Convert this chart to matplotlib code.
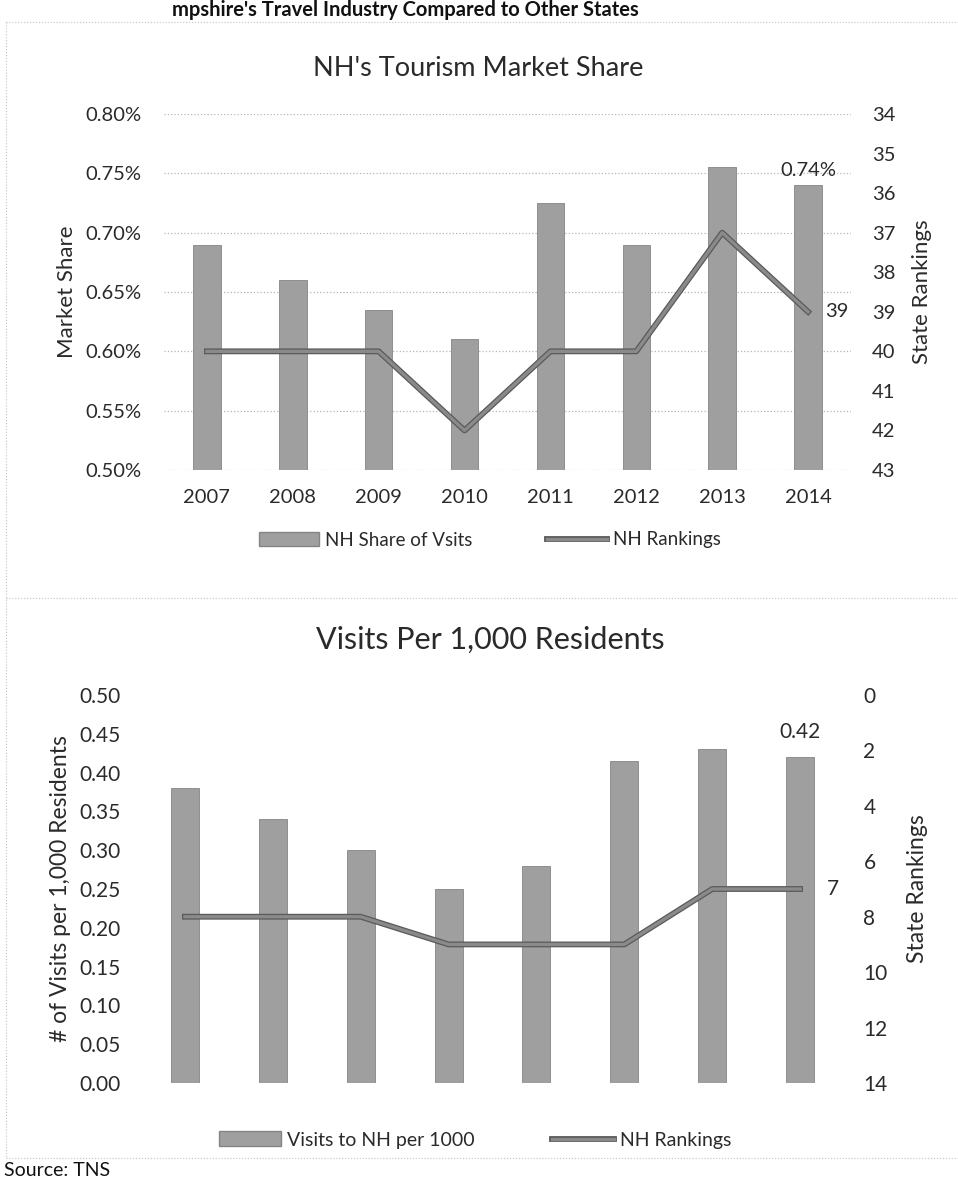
import numpy as np
import matplotlib.pyplot as plt
import matplotlib.patheffects as pe
from matplotlib.patches import Patch
from matplotlib.lines import Line2D

plt.rcParams['font.family'] = ['Lato', 'DejaVu Sans']

# data
years = ['2007', '2008', '2009', '2010', '2011', '2012', '2013', '2014']
share = [0.69, 0.66, 0.635, 0.61, 0.725, 0.69, 0.755, 0.74]      # NH share of visits (%)
share_rank = [40, 40, 40, 42, 40, 40, 37, 39]                      # NH ranking (market share)
visits = [0.38, 0.34, 0.30, 0.25, 0.28, 0.415, 0.43, 0.42]        # visits per 1000 residents
visits_rank = [8, 8, 8, 9, 9, 9, 7, 7]                             # NH ranking (visits)

W, H = 958, 1180
bar_c = '#9f9f9f'
bar_e = '#858585'
line_c = '#8a8a8a'
txt_c = '#2a2a2a'
line_fx = [pe.Stroke(linewidth=4.2, foreground='#5a5a5a'), pe.Normal()]

fig = plt.figure(figsize=(W / 100, H / 100), dpi=100)


def fx(px):
    return px / W


def fy(py):
    return 1 - py / H


x = np.arange(len(years))

# ---------- top chart: market share ----------
ax1 = fig.add_axes([fx(164), fy(470), fx(851 - 164), (470 - 114) / H])
ax1.bar(x, share, width=0.32, color=bar_c, edgecolor=bar_e, linewidth=0.6, zorder=2)
ax1.set_ylim(0.50, 0.80)
ax1.set_xlim(-0.5, 7.5)
ticks1 = np.arange(0.50, 0.801, 0.05)
ax1.set_yticks(ticks1)
ax1.set_yticklabels([f'{v:.2f}%' for v in ticks1])
ax1.set_xticks(x)
ax1.set_xticklabels(years)
ax1.yaxis.grid(True, linestyle=':', color='#b5b5b5', linewidth=0.9, zorder=0)
ax1.set_axisbelow(True)
ax1.tick_params(axis='both', length=0, labelsize=14.5, labelcolor=txt_c)
ax1.tick_params(axis='y', pad=16)
ax1.tick_params(axis='x', pad=14)
ax1.set_ylabel('Market Share', fontsize=16, color=txt_c, labelpad=6)
for s in ax1.spines.values():
    s.set_visible(False)

ax1r = ax1.twinx()
ax1r.plot(x, share_rank, color=line_c, linewidth=2.4, zorder=3, path_effects=line_fx)
ax1r.set_ylim(43, 34)
ax1r.set_yticks(range(34, 44))
ax1r.tick_params(axis='y', length=0, labelsize=14.5, labelcolor=txt_c, pad=15)
ax1r.set_ylabel('State Rankings', fontsize=16, color=txt_c, labelpad=12)
for s in ax1r.spines.values():
    s.set_visible(False)

ax1.text(x[-1], share[-1] + 0.005, f'{share[-1]:.2f}%', ha='center', va='bottom',
         fontsize=14.5, color=txt_c)
ax1r.text(x[-1] + 0.2, share_rank[-1], str(share_rank[-1]), ha='left', va='center',
          fontsize=14.5, color=txt_c)

ax1.legend(handles=[Patch(facecolor=bar_c, edgecolor=bar_e, label='NH Share of Vsits'),
                    Line2D([0], [0], color=line_c, linewidth=2.4, path_effects=line_fx,
                           label='NH Rankings')],
           loc='center', bbox_to_anchor=(fx(490), fy(540)), bbox_transform=fig.transFigure,
           ncol=2, frameon=False, fontsize=13.5, handlelength=3.2, handleheight=0.8,
           columnspacing=4, handletextpad=0.3, labelcolor=txt_c)

fig.text(fx(478), fy(68), "NH's Tourism Market Share", ha='center', va='center',
         fontsize=19.5, color=txt_c)

# ---------- bottom chart: visits per 1000 ----------
ax2 = fig.add_axes([fx(141), fy(1083), fx(844 - 141), (1083 - 695) / H])
ax2.bar(x, visits, width=0.32, color=bar_c, edgecolor=bar_e, linewidth=0.6, zorder=2)
ax2.set_ylim(0, 0.50)
ax2.set_xlim(-0.5, 7.5)
ticks2 = np.arange(0, 0.501, 0.05)
ax2.set_yticks(ticks2)
ax2.set_yticklabels([f'{v:.2f}' for v in ticks2])
ax2.set_xticks([])
ax2.tick_params(axis='y', length=0, labelsize=15, labelcolor=txt_c, pad=15)
ax2.set_ylabel('# of Visits per 1,000 Residents', fontsize=16.5, color=txt_c, labelpad=6)
for s in ax2.spines.values():
    s.set_visible(False)

ax2r = ax2.twinx()
ax2r.plot(x, visits_rank, color=line_c, linewidth=2.4, zorder=3, path_effects=line_fx)
ax2r.set_ylim(14, 0)
ax2r.set_yticks(range(0, 15, 2))
ax2r.tick_params(axis='y', length=0, labelsize=15, labelcolor=txt_c, pad=14)
ax2r.set_ylabel('State Rankings', fontsize=16.5, color=txt_c, labelpad=14)
for s in ax2r.spines.values():
    s.set_visible(False)

ax2.text(x[-1], visits[-1] + 0.02, f'{visits[-1]:.2f}', ha='center', va='bottom',
         fontsize=15, color=txt_c)
ax2r.text(x[-1] + 0.3, visits_rank[-1], str(visits_rank[-1]), ha='left', va='center',
          fontsize=15, color=txt_c)

ax2.legend(handles=[Patch(facecolor=bar_c, edgecolor=bar_e, label='Visits to NH per 1000'),
                    Line2D([0], [0], color=line_c, linewidth=2.4, path_effects=line_fx,
                           label='NH Rankings')],
           loc='center', bbox_to_anchor=(fx(475), fy(1140)), bbox_transform=fig.transFigure,
           ncol=2, frameon=False, fontsize=14, handlelength=3.2, handleheight=0.8,
           columnspacing=4, handletextpad=0.3, labelcolor=txt_c)

fig.text(fx(490), fy(640), 'Visits Per 1,000 Residents', ha='center', va='center',
         fontsize=22, color=txt_c)

# page header / footer of the scanned page and dotted chart borders
fig.text(fx(405), fy(10), "mpshire's Travel Industry Compared to Other States",
         ha='center', va='center', fontsize=14.5, fontweight='bold', color='#111111')
fig.text(fx(4), fy(1170), 'Source: TNS', ha='left', va='center', fontsize=14, color='#111111')
for py in (22, 598, 1158):
    fig.add_artist(Line2D([fx(6), 1], [fy(py), fy(py)], color='#c4c4c4', linewidth=0.8,
                          linestyle=':'))
fig.add_artist(Line2D([fx(6), fx(6)], [fy(22), fy(1158)], color='#c4c4c4', linewidth=0.8,
                      linestyle=':'))

fig.savefig('out.png', dpi=100)
